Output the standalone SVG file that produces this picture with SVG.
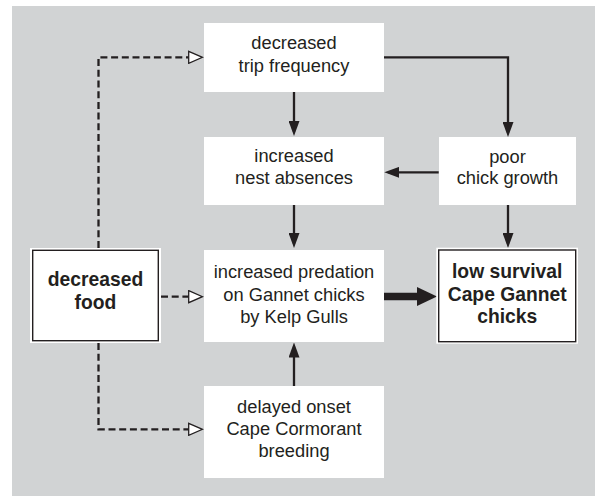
<svg xmlns="http://www.w3.org/2000/svg" width="597" height="496" viewBox="0 0 597 496">
  <style>
    .bg { fill: #d1d3d4; }
    .box { fill: #ffffff; }
    .frame { fill: none; stroke: #231f20; stroke-width: 1.4; }
    .t { font-family: "Liberation Sans", Arial, Helvetica, sans-serif; font-size: 18.3px; fill: #231f20; text-anchor: middle; }
    .b { font-weight: bold; font-size: 19.3px; }
    .solid { fill: none; stroke: #231f20; stroke-width: 2.3; }
    .dash { fill: none; stroke: #231f20; stroke-width: 2.3; stroke-dasharray: 7 3.7; }
    .thick { fill: none; stroke: #231f20; stroke-width: 7.3; }
  </style>
  <defs>
    <marker id="ah" markerUnits="userSpaceOnUse" markerWidth="15" markerHeight="11" refX="11" refY="5.5" orient="auto">
      <path d="M0,0 L15,5.5 L0,11 Z" fill="#231f20"/>
    </marker>
    <marker id="open" markerUnits="userSpaceOnUse" markerWidth="16" markerHeight="14" refX="0.7" refY="7" orient="auto">
      <path d="M0.7,1 L14.5,7 L0.7,13 Z" fill="#ffffff" stroke="#231f20" stroke-width="1.3"/>
    </marker>
    <marker id="big" markerUnits="userSpaceOnUse" markerWidth="21" markerHeight="19" refX="1" refY="9.5" orient="auto">
      <path d="M0,0 L20,9.5 L0,19 Z" fill="#231f20"/>
    </marker>
  </defs>

  <rect class="bg" x="12" y="6" width="583" height="490"/>

  <g id="connectors">
    <path class="dash" d="M98.5,248 V57.3 H188.7" marker-end="url(#open)"/>
    <path class="dash" d="M161,296.7 H188.7" marker-end="url(#open)"/>
    <path class="dash" d="M98.5,343 V429.3 H188.7" marker-end="url(#open)"/>
    <path class="solid" d="M294,92 V132" marker-end="url(#ah)"/>
    <path class="solid" d="M294,205 V244" marker-end="url(#ah)"/>
    <path class="solid" d="M294,386 V346.5" marker-end="url(#ah)"/>
    <path class="solid" d="M384,57.3 H508 V133" marker-end="url(#ah)"/>
    <path class="solid" d="M438.7,172.3 H388.3" marker-end="url(#ah)"/>
    <path class="solid" d="M508,205 V244" marker-end="url(#ah)"/>
    <path class="thick" d="M384,296.5 H418" marker-end="url(#big)"/>
  </g>

  <g id="trip-frequency">
    <rect class="box" x="204" y="23" width="180" height="69"/>
    <text class="t" x="294" y="49.3">decreased</text>
    <text class="t" x="294" y="71.7">trip frequency</text>
  </g>

  <g id="nest-absences">
    <rect class="box" x="204" y="137" width="180" height="68"/>
    <text class="t" x="294" y="161.7">increased</text>
    <text class="t" x="294" y="184.3">nest absences</text>
  </g>

  <g id="chick-growth">
    <rect class="box" x="439" y="137" width="137" height="68"/>
    <text class="t" x="507.5" y="162.5">poor</text>
    <text class="t" x="507.5" y="184.3">chick growth</text>
  </g>

  <g id="decreased-food">
    <rect class="box" x="30" y="248" width="131" height="95"/>
    <rect class="frame" x="32.7" y="250.3" width="125.6" height="90.4"/>
    <text class="t b" x="95.5" y="286">decreased</text>
    <text class="t b" x="95.5" y="309.3">food</text>
  </g>

  <g id="predation">
    <rect class="box" x="204" y="250" width="180" height="92"/>
    <text class="t" x="294" y="277.5">increased predation</text>
    <text class="t" x="294" y="300.5">on Gannet chicks</text>
    <text class="t" x="294" y="322.7">by Kelp Gulls</text>
  </g>

  <g id="low-survival">
    <rect class="box" x="436.3" y="247.7" width="141.7" height="96"/>
    <rect class="frame" x="438.7" y="250" width="137" height="91.7"/>
    <text class="t b" x="507.2" y="278.3">low survival</text>
    <text class="t b" x="507.2" y="301">Cape Gannet</text>
    <text class="t b" x="507.2" y="323.3">chicks</text>
  </g>

  <g id="cormorant-breeding">
    <rect class="box" x="204" y="386" width="180" height="92"/>
    <text class="t" x="294" y="412.7">delayed onset</text>
    <text class="t" x="294" y="435">Cape Cormorant</text>
    <text class="t" x="294" y="457">breeding</text>
  </g>
</svg>
